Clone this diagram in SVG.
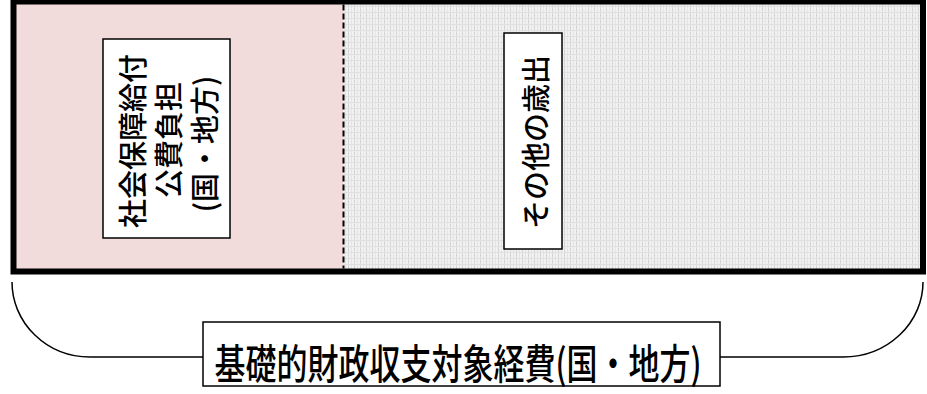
<svg xmlns="http://www.w3.org/2000/svg" width="927" height="394" viewBox="0 0 927 394">
<style>
.lbl{font-family:"Noto Sans CJK JP","Noto Sans CJK SC",sans-serif;font-weight:500;fill:#000;text-anchor:middle;dominant-baseline:central}
.box{fill:#fff;stroke:#000;stroke-width:1.5}
.br{fill:none;stroke:#000;stroke-width:1.5}
</style>
<defs>
<pattern id="dots" width="6" height="6" patternUnits="userSpaceOnUse">
<rect width="6" height="6" fill="#f1f1f1"/>
<rect x="0" y="0" width="1" height="6" fill="#d8d8d8"/>
<rect x="3" y="0" width="1" height="6" fill="#e4e4e4"/>
<rect x="0" y="0" width="6" height="1" fill="#e0e0e0"/>
<rect x="0" y="3" width="1" height="1" fill="#cccccc"/>
</pattern>
</defs>
<g id="frame">
<rect x="13.5" y="1.5" width="330" height="270" fill="#f2dcdb"/>
<rect x="343.5" y="1.5" width="579.5" height="270" fill="url(#dots)"/>
<rect x="13.5" y="1.5" width="909.5" height="270" fill="none" stroke="#000" stroke-width="6"/>
<line x1="343.5" y1="4.5" x2="343.5" y2="268.5" stroke="#000" stroke-width="2" stroke-dasharray="6,3"/>
</g>
<g id="connectors">
<path class="br" d="M12,282 A78,75 0 0 0 90,357 L203,357"/>
<path class="br" d="M720,357 L843,357 A80,75 0 0 0 923,282"/>
</g>
<g id="node-social">
<rect class="box" x="103" y="39" width="127" height="199"/>
<g transform="translate(131,141) rotate(-90)"><text class="lbl" font-size="29" x="0" y="0">社会保障給付</text></g>
<g transform="translate(167,140) rotate(-90)"><text class="lbl" font-size="29" x="0" y="0">公費負担</text></g>
<g transform="translate(203,144) rotate(-90)"><text class="lbl" font-size="29" x="0" y="0">(国・地方)</text></g>
</g>
<g id="node-other">
<rect class="box" x="504" y="33" width="58" height="216"/>
<g transform="translate(534,142) rotate(-90)"><text class="lbl" font-size="29" x="0" y="0">その他の歳出</text></g>
</g>
<g id="node-total">
<rect class="box" x="203" y="322" width="517" height="64"/>
<g transform="translate(458,361) scale(1,1.33)"><text class="lbl" font-size="31" x="0" y="0">基礎的財政収支対象経費(国・地方)</text></g>
</g>
</svg>
